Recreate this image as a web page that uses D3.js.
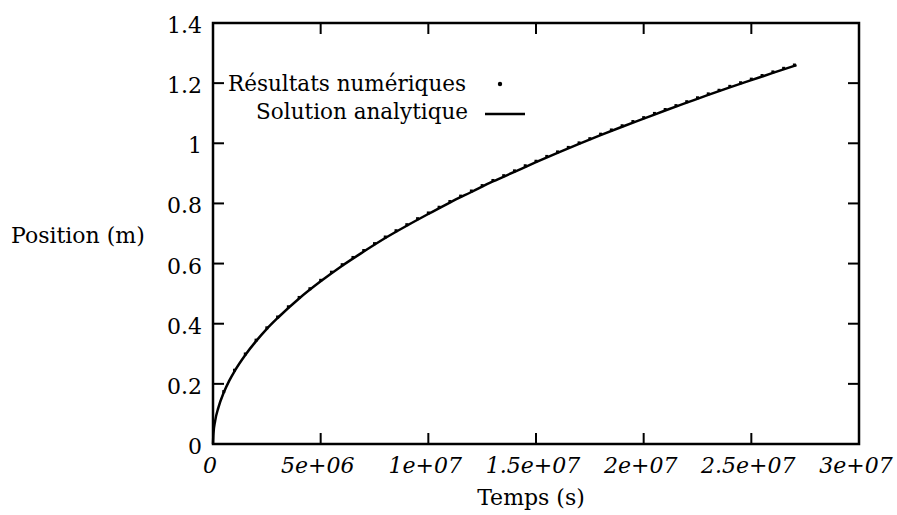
<!DOCTYPE html>
<html>
<head>
<meta charset="utf-8">
<script src="https://cdnjs.cloudflare.com/ajax/libs/d3/7.8.5/d3.min.js"></script>
<style>
  body { margin: 0; background: #fff; }
  svg { display: block; }
  text { font-family: "DejaVu Serif", serif; fill: #000; }
</style>
</head>
<body>
<script>
// temps en 1e6 s
var tAnalytique = [0, 0.02, 0.1, 0.25, 0.5, 0.75, 1, 1.5, 2, 2.5, 3, 4, 5, 6, 7, 8, 9, 10, 11, 12, 13, 14, 15, 16, 17, 18, 19, 20, 21, 22, 23, 24, 25, 26, 27.1];
var posAnalytique = [0, 0.034, 0.077, 0.121, 0.171, 0.21, 0.242, 0.296, 0.342, 0.383, 0.419, 0.484, 0.541, 0.593, 0.640, 0.685, 0.726, 0.765, 0.803, 0.838, 0.873, 0.905, 0.937, 0.968, 0.998, 1.027, 1.055, 1.082, 1.109, 1.135, 1.161, 1.186, 1.210, 1.234, 1.260];

var tNum = [0.5, 1, 1.5, 2, 2.5, 3, 3.5, 4, 4.5, 5, 5.5, 6, 6.5, 7, 7.5, 8, 8.5, 9, 9.5, 10, 10.5, 11, 11.5, 12, 12.5, 13, 13.5, 14, 14.5, 15, 15.5, 16, 16.5, 17, 17.5, 18, 18.5, 19, 19.5, 20, 20.5, 21, 21.5, 22, 22.5, 23, 23.5, 24, 24.5, 25, 25.5, 26, 26.5, 27];
var posNum = [0.171, 0.242, 0.296, 0.342, 0.383, 0.419, 0.453, 0.484, 0.513, 0.541, 0.568, 0.593, 0.617, 0.640, 0.663, 0.685, 0.706, 0.726, 0.746, 0.765, 0.784, 0.803, 0.821, 0.838, 0.856, 0.873, 0.889, 0.905, 0.922, 0.937, 0.953, 0.968, 0.983, 0.998, 1.012, 1.027, 1.041, 1.055, 1.069, 1.082, 1.096, 1.109, 1.122, 1.135, 1.148, 1.161, 1.173, 1.186, 1.198, 1.210, 1.222, 1.234, 1.246, 1.257];

var xTicks = [0, 5e6, 1e7, 1.5e7, 2e7, 2.5e7, 3e7];
var xTickLabels = ["0", "5e+06", "1e+07", "1.5e+07", "2e+07", "2.5e+07", "3e+07"];
var yTicks = [0, 0.2, 0.4, 0.6, 0.8, 1, 1.2, 1.4];
var yTickLabels = ["0", "0.2", "0.4", "0.6", "0.8", "1", "1.2", "1.4"];

var width = 897, height = 515;
var mLeft = 213, mRight = 859, mTop = 23, mBottom = 444;

const svg = d3.select("body").append("svg").attr("width", width).attr("height", height);

const x = d3.scaleLinear().domain([0, 3e7]).range([mLeft, mRight]);
const y = d3.scaleLinear().domain([0, 1.4]).range([mBottom, mTop]);

// cadre
svg.append("rect")
  .attr("x", mLeft).attr("y", mTop)
  .attr("width", mRight - mLeft).attr("height", mBottom - mTop)
  .attr("fill", "none").attr("stroke", "#000").attr("stroke-width", 2.5);

const tickLen = 11;

// graduations x (bas et haut, vers l'interieur)
xTicks.forEach(function (d, i) {
  svg.append("line").attr("x1", x(d)).attr("x2", x(d))
    .attr("y1", mBottom).attr("y2", mBottom - tickLen)
    .attr("stroke", "#000").attr("stroke-width", 2);
  svg.append("line").attr("x1", x(d)).attr("x2", x(d))
    .attr("y1", mTop).attr("y2", mTop + tickLen)
    .attr("stroke", "#000").attr("stroke-width", 2);
  svg.append("text")
    .attr("x", x(d) - 3).attr("y", 473)
    .attr("text-anchor", "middle")
    .style("font-size", "22px").style("font-style", "italic")
    .text(xTickLabels[i]);
});

// graduations y
yTicks.forEach(function (d, i) {
  svg.append("line").attr("x1", mLeft).attr("x2", mLeft + tickLen)
    .attr("y1", y(d)).attr("y2", y(d))
    .attr("stroke", "#000").attr("stroke-width", 2);
  svg.append("line").attr("x1", mRight).attr("x2", mRight - tickLen)
    .attr("y1", y(d)).attr("y2", y(d))
    .attr("stroke", "#000").attr("stroke-width", 2);
  svg.append("text")
    .attr("x", 202).attr("y", y(d) + 10)
    .attr("text-anchor", "end")
    .style("font-size", "22px")
    .text(yTickLabels[i]);
});

// titres des axes
svg.append("text").attr("x", 531).attr("y", 505)
  .attr("text-anchor", "middle").style("font-size", "22px")
  .text("Temps (s)");
svg.append("text").attr("x", 11).attr("y", 243)
  .style("font-size", "22px")
  .text("Position (m)");

// solution analytique
const line = d3.line()
  .x(function (d, i) { return x(tAnalytique[i] * 1e6); })
  .y(function (d) { return y(d); })
  .curve(d3.curveMonotoneX);

svg.append("path")
  .datum(posAnalytique)
  .attr("d", line)
  .attr("fill", "none")
  .attr("stroke", "#000")
  .attr("stroke-width", 2.5);

// resultats numeriques
svg.append("g").selectAll("rect")
  .data(posNum)
  .enter()
  .append("rect")
  .attr("x", function (d, i) { return x(tNum[i] * 1e6) - 1.5; })
  .attr("y", function (d) { return y(d) - 2.5; })
  .attr("width", 3).attr("height", 3)
  .attr("fill", "#000");

// legende
svg.append("text").attr("x", 466).attr("y", 91)
  .attr("text-anchor", "end").style("font-size", "21.5px")
  .text("Résultats numériques");
svg.append("circle").attr("cx", 500).attr("cy", 84).attr("r", 2.2).attr("fill", "#000");
svg.append("text").attr("x", 468).attr("y", 119)
  .attr("text-anchor", "end").style("font-size", "21.5px")
  .text("Solution analytique");
svg.append("line").attr("x1", 485).attr("x2", 525)
  .attr("y1", 114).attr("y2", 114)
  .attr("stroke", "#000").attr("stroke-width", 2.5);
</script>
</body>
</html>
